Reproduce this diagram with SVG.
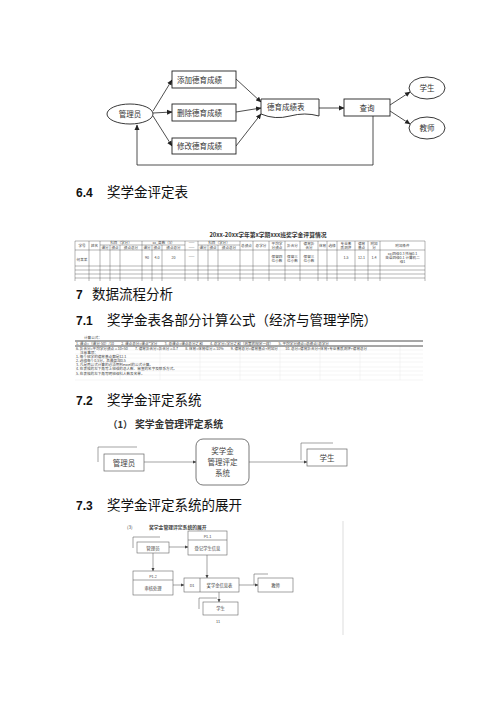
<svg xmlns="http://www.w3.org/2000/svg" width="500" height="708" viewBox="0 0 500 708">
<style>
.t{font-family:"Noto Sans CJK SC","Liberation Sans",sans-serif;fill:#333}
.h{font-family:"Noto Sans CJK SC",sans-serif;fill:#111;font-size:13.5px}
.hn{font-family:"Liberation Sans","DejaVu Sans",sans-serif;font-weight:bold;fill:#111;font-size:12px}
.box{fill:#fff;stroke:#222;stroke-width:0.9}
.ln{fill:none;stroke:#222;stroke-width:0.8}
.g{fill:none;stroke:#666;stroke-width:0.6}
.tb{stroke:#444;stroke-width:0.4;fill:none}
.fg{stroke:#e2e2e2;stroke-width:0.4;fill:none}
.s{font-family:"Noto Sans CJK SC",sans-serif;fill:#444}
</style>
<defs>
<marker id="a" markerWidth="6" markerHeight="6" refX="5" refY="3" orient="auto" markerUnits="userSpaceOnUse"><path d="M0,0.5 L5.5,3 L0,5.5 Z" fill="#222"/></marker>
<marker id="b" markerWidth="4" markerHeight="4" refX="3.5" refY="2" orient="auto" markerUnits="userSpaceOnUse"><path d="M0,0.3 L4,2 L0,3.7 Z" fill="#444"/></marker>
</defs>
<rect width="500" height="708" fill="#fff"/>

<!-- Top diagram -->
<g id="connectors1">
<line class="ln" x1="153" y1="111" x2="172" y2="80" marker-end="url(#a)"/>
<line class="ln" x1="153" y1="113" x2="172" y2="112" marker-end="url(#a)"/>
<line class="ln" x1="153" y1="116" x2="172" y2="146" marker-end="url(#a)"/>
<line class="ln" x1="236" y1="79" x2="261" y2="102" marker-end="url(#a)"/>
<line class="ln" x1="236" y1="112" x2="261" y2="108" marker-end="url(#a)"/>
<line class="ln" x1="236" y1="146" x2="261" y2="114" marker-end="url(#a)"/>
<line class="ln" x1="319" y1="108" x2="344" y2="108" marker-end="url(#a)"/>
<line class="ln" x1="390" y1="105" x2="410" y2="92" marker-end="url(#a)"/>
<line class="ln" x1="390" y1="111" x2="410" y2="124" marker-end="url(#a)"/>
<polyline class="ln" points="373,116 373,165 137,165 137,125" marker-end="url(#a)"/>
</g>
<g id="n-admin"><ellipse class="box" cx="130" cy="114" rx="23" ry="10"/><text class="t" x="130" y="117" font-size="7.5" text-anchor="middle">管理员</text></g>
<g id="n-add"><rect class="box" x="172" y="71" width="64" height="17"/><text class="t" x="177" y="82.5" font-size="7.5">添加德育成绩</text></g>
<g id="n-del"><rect class="box" x="172" y="104" width="64" height="17"/><text class="t" x="177" y="115.5" font-size="7.5">删除德育成绩</text></g>
<g id="n-mod"><rect class="box" x="172" y="138" width="64" height="16"/><text class="t" x="177" y="149" font-size="7.5">修改德育成绩</text></g>
<g id="n-table"><path class="box" d="M261,99 H319 V116 Q305,112 290,116 Q275,120 261,114 Z"/><text class="t" x="267" y="110" font-size="7.5">德育成绩表</text></g>
<g id="n-query"><rect class="box" x="344" y="99" width="46" height="17"/><text class="t" x="367" y="110.5" font-size="7.5" text-anchor="middle">查询</text></g>
<g id="n-stu"><ellipse class="box" cx="427" cy="88" rx="18" ry="11"/><text class="t" x="427" y="91" font-size="7.5" text-anchor="middle">学生</text></g>
<g id="n-tea"><ellipse class="box" cx="427" cy="128" rx="18" ry="11"/><text class="t" x="427" y="131" font-size="7.5" text-anchor="middle">教师</text></g>

<!-- 6.4 -->
<text class="hn" x="76" y="197">6.4</text>
<text class="h" x="107" y="197">奖学金评定表</text>

<!-- Table -->
<g id="table">
<text class="t" x="268" y="237" font-size="5.8" font-weight="bold" text-anchor="middle" fill="#111">20xx-20xx学年第x学期xxx班奖学金评算情况</text>
<g class="tb">
<line x1="75" y1="241" x2="425" y2="241"/>
<line x1="100" y1="245" x2="185" y2="245"/>
<line x1="198" y1="245" x2="240" y2="245"/>
<line x1="75" y1="250" x2="425" y2="250"/>
<line x1="75" y1="266" x2="425" y2="266"/>
<line x1="75" y1="270" x2="425" y2="270"/>
<line x1="75" y1="274" x2="425" y2="274"/>
<line x1="75" y1="278" x2="425" y2="278"/>
<line x1="75" y1="241" x2="75" y2="281"/>
<line x1="89" y1="241" x2="89" y2="281"/>
<line x1="100" y1="241" x2="100" y2="281"/>
<line x1="110" y1="245" x2="110" y2="281"/>
<line x1="120" y1="245" x2="120" y2="281"/>
<line x1="142" y1="241" x2="142" y2="281"/>
<line x1="152" y1="245" x2="152" y2="281"/>
<line x1="162" y1="245" x2="162" y2="281"/>
<line x1="185" y1="241" x2="185" y2="281"/>
<line x1="198" y1="241" x2="198" y2="281"/>
<line x1="208" y1="245" x2="208" y2="281"/>
<line x1="218" y1="245" x2="218" y2="281"/>
<line x1="240" y1="241" x2="240" y2="281"/>
<line x1="253" y1="241" x2="253" y2="281"/>
<line x1="269" y1="241" x2="269" y2="281"/>
<line x1="285" y1="241" x2="285" y2="281"/>
<line x1="300" y1="241" x2="300" y2="281"/>
<line x1="318" y1="241" x2="318" y2="281"/>
<line x1="327" y1="241" x2="327" y2="281"/>
<line x1="337" y1="241" x2="337" y2="281"/>
<line x1="355" y1="241" x2="355" y2="281"/>
<line x1="368" y1="241" x2="368" y2="281"/>
<line x1="380" y1="241" x2="380" y2="281"/>
<line x1="425" y1="241" x2="425" y2="281"/>
</g>
<g class="s" font-size="3.6" text-anchor="middle">
<text x="82" y="247">学号</text><text x="94.5" y="247">姓名</text>
<text x="121" y="244">科目（学分）</text>
<text x="105" y="248.5">课分</text><text x="115" y="248.5">绩点</text><text x="131" y="248.5">绩点总分</text>
<text x="163.5" y="244">xx_高数（5）</text>
<text x="147" y="248.5">课分</text><text x="157" y="248.5">绩点</text><text x="173.5" y="248.5">绩点总分</text>
<text x="191.5" y="244">——</text><text x="191.5" y="248.5">——</text>
<text x="219" y="244">科目（学分）</text>
<text x="203" y="248.5">课分</text><text x="213" y="248.5">绩点</text><text x="229" y="248.5">绩点总分</text>
<text x="246.5" y="247">总绩点</text><text x="261" y="247">总学分</text>
<text x="277" y="245">平均学</text><text x="277" y="249">分绩点</text>
<text x="292.5" y="247">折合分</text>
<text x="309" y="245">德育折</text><text x="309" y="249">合分</text>
<text x="322.5" y="247">体育</text><text x="332" y="247">选修</text>
<text x="346" y="245">专业素</text><text x="346" y="249">质测评</text>
<text x="361.5" y="245">德育</text><text x="361.5" y="249">基点</text>
<text x="374" y="245">附加</text><text x="374" y="249">分</text>
<text x="402.5" y="247">附加条件</text>
<text x="82" y="261">何某某</text>
<text x="147" y="259">90</text><text x="157" y="259">4.0</text><text x="173.5" y="259">20</text><text x="191.5" y="258">——</text>
<text x="277" y="258">保留四</text><text x="277" y="262">位小数</text>
<text x="292.5" y="258">保留三</text><text x="292.5" y="262">位小数</text>
<text x="309" y="258">保留三</text><text x="309" y="262">位小数</text>
<text x="346" y="259">1.5</text><text x="361.5" y="259">12.1</text><text x="374" y="259">1.4</text>
<text x="402.5" y="255">xx:四级0.3 托福0.1</text><text x="402.5" y="259">英语四级0.1 计算机二</text><text x="402.5" y="263">级1</text>
</g>
</g>

<!-- 7 -->
<text class="hn" x="76" y="299">7</text>
<text class="h" x="92" y="299" font-size="14px">数据流程分析</text>
<text class="hn" x="76" y="325">7.1</text>
<text class="h" x="107" y="325">奖学金表各部分计算公式（经济与管理学院）</text>

<!-- Formula block -->
<g id="formula">
<g class="fg">
<line x1="75" y1="350" x2="423" y2="350"/><line x1="75" y1="354" x2="423" y2="354"/>
<line x1="75" y1="358" x2="423" y2="358"/><line x1="75" y1="362" x2="423" y2="362"/>
<line x1="75" y1="367" x2="423" y2="367"/><line x1="75" y1="371" x2="423" y2="371"/>
<line x1="75" y1="375" x2="423" y2="375"/><line x1="75" y1="380" x2="423" y2="380"/>
<line x1="120" y1="346" x2="120" y2="380"/><line x1="160" y1="346" x2="160" y2="380"/>
<line x1="200" y1="346" x2="200" y2="380"/><line x1="240" y1="346" x2="240" y2="380"/>
<line x1="280" y1="346" x2="280" y2="380"/><line x1="320" y1="346" x2="320" y2="380"/>
<line x1="360" y1="346" x2="360" y2="380"/><line x1="400" y1="346" x2="400" y2="380"/>
</g>
<line x1="75" y1="341" x2="423" y2="341" stroke="#222" stroke-width="0.8"/>
<line x1="75" y1="346" x2="423" y2="346" stroke="#222" stroke-width="0.8"/>
<g class="s" font-size="3.6">
<text x="84" y="339">计算公式：</text>
<text x="76" y="344.5">1. 课点=（课分-50）/10　　2. 课点总分=课点*学分　　3. 总课点=课点总分之和　　4. 总学分=学分之和（政策的规定一样）　　5. 平均学分绩点=总绩点/总学分</text>
<text x="76" y="349.5">6. 折合分=平均学分绩点×10+50　　7. 德育折合分=折合分×0.7　　8. 体育=体育得分×10%　　9. 德育总分=德育基点+附加分　　10. 总分=德育折合分+体育+专业素质测评+德育总分</text>
<text x="80" y="353.5">注意事项：</text>
<text x="76" y="357.5">1. 每个班学的德育基点都是12.1</text>
<text x="76" y="361.5">2. 选修每个0.5分，且最高加0.5</text>
<text x="76" y="366">3. 凡是用公式计算的必须用到excel的公式计算。</text>
<text x="76" y="370">4. 在表格的左下角写上班级的总人数、审查的名字及联系方式。</text>
<text x="76" y="374.5">5. 在表格的左下角写明班级科人数及名单。</text>
</g>
</g>

<!-- 7.2 -->
<text class="hn" x="76" y="405">7.2</text>
<text class="h" x="107" y="405">奖学金评定系统</text>
<text class="t" x="108" y="428" font-size="9.5" font-weight="bold" fill="#111">（1）</text>
<text class="t" x="135" y="428" font-size="9.8" font-weight="bold" fill="#111">奖学金管理评定系统</text>

<g id="connectors2">
<line class="g" x1="144" y1="462" x2="196" y2="462" marker-end="url(#b)" stroke="#444"/>
<line class="g" x1="249" y1="462" x2="307" y2="462" marker-end="url(#b)" stroke="#444"/>
</g>
<g id="n2-admin">
<polyline class="g" points="98,462 98,447 137,447"/>
<rect x="104" y="454" width="40" height="17" fill="#fff" stroke="#666" stroke-width="0.7"/>
<text class="s" x="124" y="465.5" font-size="7.5" text-anchor="middle" fill="#666">管理员</text>
</g>
<g id="n2-sys">
<rect x="196" y="439" width="53" height="46" rx="7" fill="#fff" stroke="#555" stroke-width="0.8"/>
<text class="s" x="222.5" y="454" font-size="7.5" text-anchor="middle" fill="#666">奖学金</text>
<text class="s" x="222.5" y="465" font-size="7.5" text-anchor="middle" fill="#666">管理评定</text>
<text class="s" x="222.5" y="476" font-size="7.5" text-anchor="middle" fill="#666">系统</text>
</g>
<g id="n2-stu">
<polyline class="g" points="301,460 301,443 333,443"/>
<rect x="307" y="449" width="40" height="17" fill="#fff" stroke="#666" stroke-width="0.7"/>
<text class="s" x="327" y="460.5" font-size="7.5" text-anchor="middle" fill="#666">学生</text>
</g>

<!-- 7.3 -->
<text class="hn" x="76" y="510">7.3</text>
<text class="h" x="107" y="510">奖学金评定系统的展开</text>

<!-- Embedded thumbnail -->
<line x1="343" y1="521" x2="343" y2="635" stroke="#ddd" stroke-width="1"/>
<text class="s" x="127" y="529" font-size="4.5" fill="#222">(3)</text>
<text class="s" x="149" y="529" font-size="4.8" font-weight="bold" fill="#222">奖学金管理评定系统的展开</text>
<g id="connectors3">
<line class="g" x1="169" y1="547" x2="188" y2="547" marker-end="url(#b)"/>
<line class="g" x1="153" y1="553" x2="153" y2="571" marker-end="url(#b)"/>
<line class="g" x1="207" y1="555" x2="207" y2="578" marker-end="url(#b)"/>
<line class="g" x1="173" y1="585" x2="184" y2="585" marker-end="url(#b)"/>
<line class="g" x1="239" y1="585" x2="258" y2="585" marker-end="url(#b)"/>
<line class="g" x1="219" y1="592" x2="219" y2="602" marker-end="url(#b)"/>
</g>
<g id="n3-admin">
<polyline class="g" points="133,548 133,537 160,537"/>
<rect x="137" y="542" width="32" height="11" fill="#fff" stroke="#666" stroke-width="0.6"/>
<text class="s" x="153" y="549.5" font-size="4.5" text-anchor="middle" fill="#777">管理员</text>
</g>
<g id="n3-p11">
<rect x="188" y="531" width="39" height="24" fill="#fff" stroke="#666" stroke-width="0.6"/>
<line class="g" x1="188" y1="540" x2="227" y2="540"/>
<text class="s" x="207.5" y="537.5" font-size="3.8" text-anchor="middle" fill="#666">P1.1</text>
<text class="s" x="207.5" y="549.5" font-size="4.3" text-anchor="middle" fill="#777">登记学生信息</text>
</g>
<g id="n3-p12">
<rect x="133" y="571" width="40" height="24" fill="#fff" stroke="#666" stroke-width="0.6"/>
<line class="g" x1="133" y1="580" x2="173" y2="580"/>
<text class="s" x="153" y="577.5" font-size="3.8" text-anchor="middle" fill="#444">P1.2</text>
<text class="s" x="153" y="589.5" font-size="4.3" text-anchor="middle" fill="#777">审核处理</text>
</g>
<g id="n3-d1">
<rect x="184" y="578" width="55" height="14" fill="#fff" stroke="#666" stroke-width="0.6"/>
<line class="g" x1="200" y1="578" x2="200" y2="592"/>
<text class="s" x="192" y="586.5" font-size="3.8" text-anchor="middle" fill="#444">D1</text>
<text class="s" x="219.5" y="586.5" font-size="4.3" text-anchor="middle" fill="#777">奖学金信息表</text>
</g>
<g id="n3-tea">
<polyline class="g" points="254,585 254,574 268,574"/>
<rect x="258" y="578" width="35" height="14" fill="#fff" stroke="#666" stroke-width="0.6"/>
<text class="s" x="275.5" y="586.5" font-size="4.3" text-anchor="middle" fill="#777">教师</text>
</g>
<g id="n3-stu">
<polyline class="g" points="199,609 199,598 217,598"/>
<rect x="203" y="602" width="35" height="13" fill="#fff" stroke="#666" stroke-width="0.6"/>
<text class="s" x="220.5" y="610" font-size="4.3" text-anchor="middle" fill="#777">学生</text>
</g>
<text class="s" x="218" y="623" font-size="3.8" text-anchor="middle" fill="#777">11</text>
</svg>
